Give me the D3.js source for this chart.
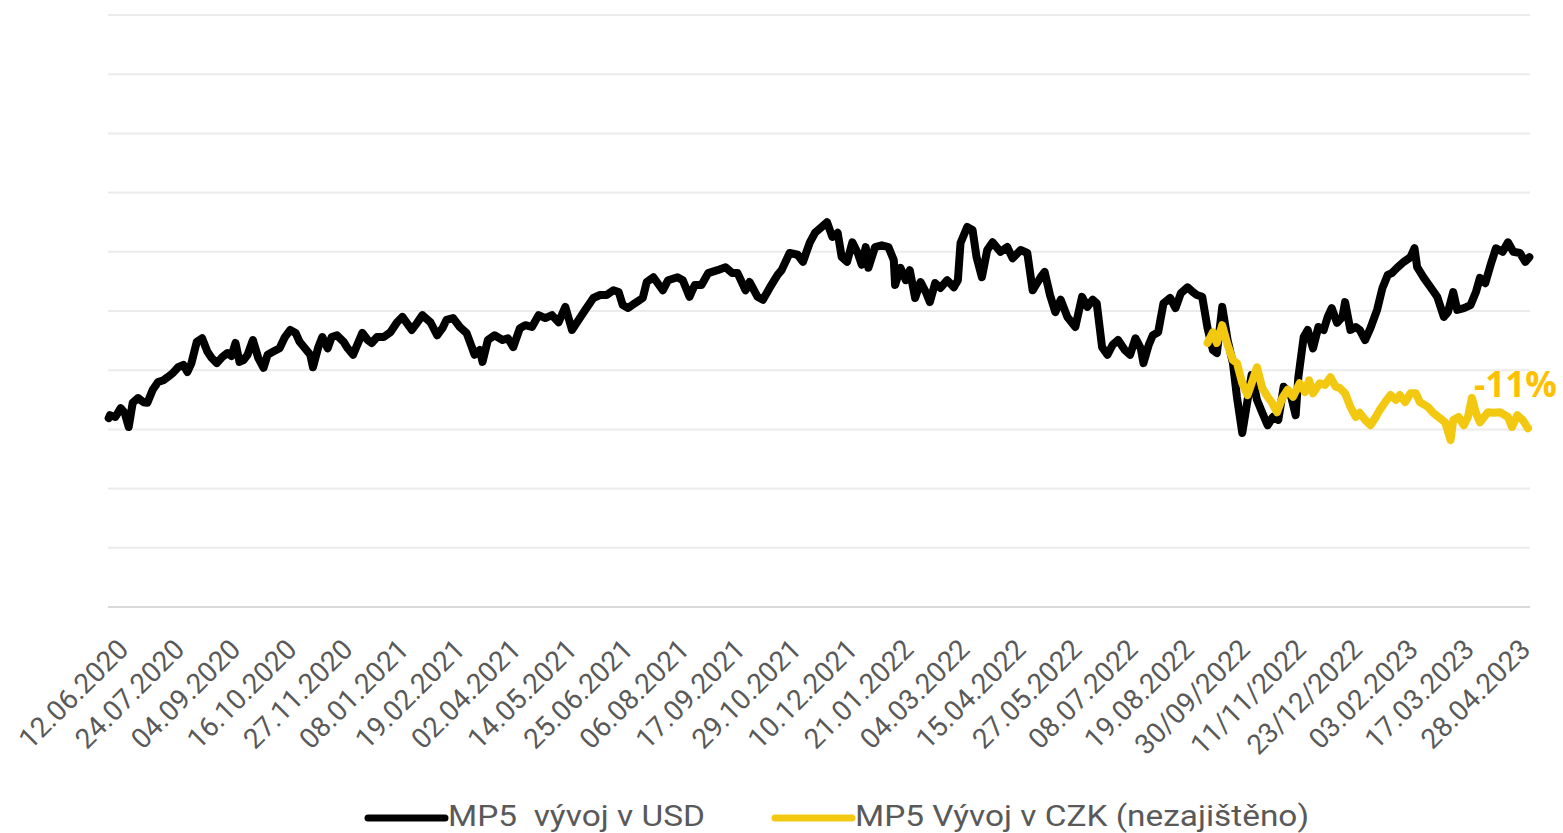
<!DOCTYPE html>
<html>
<head>
<meta charset="utf-8">
<script src="https://cdn.jsdelivr.net/npm/d3@7"></script>
<style>
  body { margin: 0; background: #fff; }
  svg { display: block; font-family: Roboto, "Noto Sans", sans-serif; }
</style>
</head>
<body>
<div id="chart"></div>
<script>
// x labels, one every 6 weeks starting 12.06.2020
const tickLabels = [
    '12.06.2020', '24.07.2020', '04.09.2020', '16.10.2020', '27.11.2020',
    '08.01.2021', '19.02.2021', '02.04.2021', '14.05.2021', '25.06.2021',
    '06.08.2021', '17.09.2021', '29.10.2021', '10.12.2021', '21.01.2022',
    '04.03.2022', '15.04.2022', '27.05.2022', '08.07.2022', '19.08.2022',
    '30/09/2022', '11/11/2022', '23/12/2022', '03.02.2023', '17.03.2023',
    '28.04.2023'
];
const tickStep = 42; // days between labels

// MP5 in USD: day offset from 12.06.2020 and index value (no y labels shown)
const usdDay = [
    -16, -15, -11, -7, -4, -1, 2, 6, 10, 13, 17, 21, 25, 28, 32, 36, 40, 43, 46, 50,
    54, 58, 61, 65, 69, 73, 76, 79, 82, 85, 88, 92, 96, 100, 103, 107, 112, 116, 120, 124,
    127, 131, 135, 137, 141, 144, 148, 151, 155, 160, 163, 167, 174, 178, 181, 185, 190, 195, 200, 204,
    211, 215, 219, 225, 230, 234, 237, 242, 247, 252, 256, 258, 262, 264, 268, 273, 279, 283, 287, 292,
    296, 301, 306, 311, 316, 321, 326, 331, 336, 341, 347, 352, 357, 362, 366, 369, 373, 378, 384, 387,
    392, 399, 403, 410, 414, 419, 423, 428, 433, 440, 446, 451, 455, 461, 464, 470, 474, 479, 485, 488,
    494, 500, 504, 509, 513, 518, 522, 526, 530, 533, 537, 541, 545, 548, 551, 553, 558, 563, 568, 572,
    573, 577, 581, 584, 588, 592, 596, 599, 603, 607, 612, 617, 620, 622, 627, 631, 634, 638, 642, 646,
    652, 657, 661, 667, 672, 676, 682, 685, 689, 693, 697, 702, 708, 713, 717, 721, 724, 728, 732, 736,
    740, 745, 749, 753, 757, 759, 763, 766, 770, 774, 779, 783, 787, 792, 796, 799, 803, 807, 811, 814,
    818, 822, 826, 829, 833, 837, 840, 844, 848, 852, 856, 860, 864, 869, 873, 875, 879, 882, 886, 890,
    894, 897, 900, 904, 908, 910, 914, 918, 921, 925, 929, 934, 938, 942, 945, 949, 954, 959, 962, 964,
    969, 974, 979, 984, 987, 991, 994, 999, 1004, 1008, 1011, 1015, 1019, 1023, 1028, 1032, 1036, 1041, 1045, 1048
];
const usdValue = [
    31.9, 32.4, 32.1, 33.6, 32.8, 30.4, 34.5, 35.3, 34.6, 34.5, 36.7, 38.0, 38.3, 38.8, 39.5, 40.5, 40.9, 39.7, 41.2, 44.8,
    45.4, 43.1, 42.1, 41.2, 42.2, 42.9, 42.4, 44.6, 41.4, 41.7, 42.6, 45.1, 42.1, 40.4, 42.6, 43.1, 43.7, 45.6, 46.8, 46.3,
    44.8, 43.7, 42.6, 40.5, 43.9, 45.6, 43.7, 45.6, 45.9, 44.8, 43.7, 42.6, 46.3, 45.1, 44.6, 45.6, 45.6, 46.4, 48.1, 49.0,
    46.8, 48.0, 49.3, 48.1, 45.9, 47.1, 48.5, 48.8, 47.3, 46.3, 43.9, 42.6, 43.4, 41.4, 45.1, 45.9, 45.1, 45.4, 43.9, 47.1,
    47.6, 47.3, 49.3, 48.8, 49.3, 48.1, 50.7, 46.8, 48.5, 50.2, 52.2, 52.7, 52.7, 53.5, 53.2, 51.0, 50.5, 51.3, 52.2, 54.9,
    55.7, 53.5, 55.2, 55.7, 55.2, 52.4, 54.4, 54.4, 56.4, 56.9, 57.4, 56.4, 56.4, 53.5, 54.9, 52.4, 51.9, 53.9, 56.1, 56.9,
    59.8, 59.5, 58.3, 61.5, 63.2, 64.2, 65.0, 62.5, 63.2, 59.1, 58.3, 61.6, 59.8, 57.8, 60.8, 57.3, 60.8, 61.1, 60.8, 58.6,
    54.4, 57.3, 55.2, 56.9, 52.2, 54.9, 53.2, 51.5, 54.7, 53.9, 55.2, 54.0, 55.2, 61.5, 64.2, 63.7, 59.1, 55.7, 60.3, 61.6,
    60.0, 60.8, 58.9, 60.3, 59.8, 53.5, 55.7, 56.6, 52.7, 49.8, 51.9, 49.0, 47.3, 52.4, 50.7, 51.9, 51.3, 43.9, 42.6, 44.3,
    45.1, 43.4, 42.6, 45.4, 43.7, 41.2, 44.3, 45.9, 46.4, 51.3, 52.2, 50.5, 53.0, 54.0, 53.2, 52.7, 52.4, 47.1, 43.4, 42.9,
    50.7, 45.1, 41.2, 35.5, 29.4, 35.0, 39.2, 35.0, 32.8, 30.7, 32.1, 31.6, 37.2, 36.1, 32.4, 38.8, 45.6, 46.8, 43.7, 47.3,
    46.8, 49.0, 50.5, 48.0, 49.0, 51.5, 46.8, 47.3, 46.8, 45.1, 47.1, 50.2, 53.9, 56.1, 56.4, 57.3, 58.3, 59.1, 60.6, 57.4,
    55.6, 54.0, 52.4, 49.0, 49.8, 53.2, 50.2, 50.5, 51.0, 53.2, 55.6, 54.7, 57.8, 60.6, 60.0, 61.6, 60.0, 59.8, 58.3, 59.1
];

// MP5 in CZK (unhedged), from late September 2022
const czkDay = [
    807, 811, 814, 818, 822, 826, 829, 833, 837, 840, 844, 848, 852, 855, 859, 863, 867, 871, 876, 880,
    883, 886, 891, 895, 899, 903, 906, 910, 914, 918, 921, 925, 929, 933, 936, 940, 944, 948, 951, 955,
    959, 963, 966, 972, 976, 981, 985, 989, 991, 995, 999, 1002, 1005, 1008, 1011, 1017, 1021, 1026, 1032, 1035,
    1039, 1043, 1047
];
const czkValue = [
    44.6, 46.4, 44.6, 47.6, 44.3, 41.7, 41.2, 37.8, 35.8, 37.8, 40.5, 37.0, 35.5, 34.6, 32.9, 35.3, 36.7, 35.5, 37.8, 36.3,
    38.3, 36.1, 37.8, 37.5, 38.8, 37.2, 37.0, 36.1, 33.8, 32.1, 32.8, 31.6, 30.7, 32.1, 33.3, 34.6, 35.8, 35.0, 35.8, 34.6,
    36.1, 36.1, 34.6, 33.8, 32.8, 31.9, 31.2, 28.2, 31.6, 32.1, 30.7, 32.1, 35.3, 32.8, 31.2, 32.9, 32.8, 32.9, 32.1, 30.4,
    32.4, 31.6, 30.2
];

const usdColor = '#000000';
const czkColor = '#F2C811';

const width = 1563, height = 833;

const svg = d3.select('#chart')
    .append('svg')
    .attr('width', width)
    .attr('height', height);

// x in days from 12.06.2020, plot spans a bit before the first label
const x = d3.scaleLinear()
    .domain([-16.5, 1048.5])
    .range([108, 1530]);

const y = d3.scaleLinear()
    .domain([0, 100])
    .range([607, 15]);

// horizontal gridlines
svg.append('g')
    .selectAll('line')
    .data(y.ticks(10))
    .enter()
    .append('line')
    .attr('x1', x.range()[0])
    .attr('x2', x.range()[1])
    .attr('y1', d => y(d))
    .attr('y2', d => y(d))
    .attr('stroke', d => d === 0 ? '#d9d9d9' : '#ebebeb')
    .attr('stroke-width', 2);

// rotated date labels
svg.append('g')
    .selectAll('text')
    .data(tickLabels)
    .enter()
    .append('text')
    .attr('transform', (d, i) => 'translate(' + x(i * tickStep) + ',651) rotate(-45)')
    .attr('text-anchor', 'end')
    .attr('fill', '#595959')
    .style('font-size', '28px')
    .text(d => d);

const line = d3.line()
    .x(d => x(d[0]))
    .y(d => y(d[1]));

const usdData = usdDay.map((d, i) => [d, usdValue[i]]);
const czkData = czkDay.map((d, i) => [d, czkValue[i]]);

svg.append('path')
    .datum(usdData)
    .attr('d', line)
    .attr('fill', 'none')
    .attr('stroke', usdColor)
    .attr('stroke-width', 8)
    .attr('stroke-linejoin', 'round')
    .attr('stroke-linecap', 'round');

svg.append('path')
    .datum(czkData)
    .attr('d', line)
    .attr('fill', 'none')
    .attr('stroke', czkColor)
    .attr('stroke-width', 8)
    .attr('stroke-linejoin', 'round')
    .attr('stroke-linecap', 'round');

// change label at the end of the CZK line
svg.append('text')
    .attr('x', 1474)
    .attr('y', 397)
    .attr('fill', '#FFC000')
    .style('font-family', '"Open Sans", sans-serif')
    .style('font-weight', 700)
    .style('font-size', '35px')
    .text('-11%');

// legend
const legend = [
    { name: 'MP5  vývoj v USD', color: usdColor, x: 368, w: 257 },
    { name: 'MP5 Vývoj v CZK (nezajištěno)', color: czkColor, x: 775, w: 454 }
];

const lg = svg.append('g')
    .selectAll('g')
    .data(legend)
    .enter()
    .append('g')
    .attr('transform', d => 'translate(' + d.x + ',818)');

lg.append('line')
    .attr('x1', 0)
    .attr('x2', 77)
    .attr('stroke', d => d.color)
    .attr('stroke-width', 7)
    .attr('stroke-linecap', 'round');

lg.append('text')
    .attr('x', 80)
    .attr('y', 8)
    .attr('fill', '#595959')
    .attr('textLength', d => d.w)
    .attr('lengthAdjust', 'spacingAndGlyphs')
    .style('font-size', '30px')
    .style('white-space', 'pre')
    .text(d => d.name);
</script>
</body>
</html>
